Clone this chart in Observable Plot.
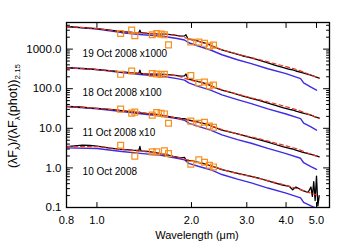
<!DOCTYPE html>
<html><head><meta charset="utf-8">
<script src="https://cdn.jsdelivr.net/npm/d3@7"></script>
<script src="https://cdn.jsdelivr.net/npm/@observablehq/plot@0.6"></script>
<style>body{margin:0;background:#fff}#chart{width:350px;height:250px}</style>
</head><body><div id="chart"></div>
<script>
// ---- data (values relative to photometry, before the epoch offset factor) ----
const epochs = ["10 Oct", "11 Oct", "18 Oct", "19 Oct"];
const epochFactors = [1, 10, 100, 1000];
const epochLabels = ["10 Oct 2008", "11 Oct 2008 x10", "18 Oct 2008 x100", "19 Oct 2008 x1000"];

const obsWavelength = [0.80,0.85,0.90,0.95,1.00,1.10,1.20,1.30,1.36,1.37,1.38,1.45,1.55,1.65,1.75,1.85,1.90,1.92,1.95,2.05,2.15,2.25,2.35,2.50,2.70,2.90,3.10,3.30,3.50,3.70,3.90,4.10,4.20,4.30,4.50,4.70,4.80,4.85,4.90,4.95,5.00,5.05,5.10];
const obs10Oct = [3.45,3.60,3.75,3.70,3.55,3.15,2.95,2.80,2.75,3.50,2.70,2.62,2.40,2.18,1.95,1.80,1.85,1.58,1.55,1.45,1.33,1.20,1.08,0.90,0.78,0.69,0.61,0.54,0.47,0.41,0.37,0.34,0.28,0.33,0.27,0.24,0.33,0.19,0.45,0.15,0.62,0.11,0.20];
const obs11Oct = [3.60,3.50,3.40,3.30,3.20,3.00,2.80,2.60,2.50,2.55,2.45,2.35,2.25,2.05,1.90,1.78,1.75,1.70,1.62,1.50,1.38,1.25,1.08,0.90,0.78,0.67,0.58,0.51,0.45,0.39,0.345,0.31,0.30,0.28,0.25,0.23,0.22,0.215,0.21,0.205,0.20,0.195,0.19];
const obs18Oct = [3.39,3.30,3.25,3.15,3.05,2.85,2.65,2.50,2.45,2.95,2.42,2.35,2.32,2.30,2.20,2.08,2.10,2.35,1.75,1.60,1.45,1.30,1.10,0.92,0.78,0.66,0.57,0.50,0.43,0.38,0.335,0.30,0.29,0.27,0.245,0.225,0.215,0.21,0.20,0.195,0.19,0.185,0.18];
const obs19Oct = [3.72,3.60,3.50,3.40,3.31,3.00,2.75,2.65,2.62,3.00,2.60,2.50,2.42,2.40,2.30,2.12,2.15,2.30,1.80,1.68,1.50,1.35,1.15,0.95,0.80,0.68,0.60,0.52,0.45,0.39,0.345,0.31,0.30,0.28,0.255,0.23,0.22,0.215,0.21,0.20,0.195,0.19,0.185];

const modelWavelength = [0.80,1.00,1.20,1.40,1.60,1.80,2.00,2.20,2.40,2.60,2.80,3.00,3.30,3.60,4.00,4.40,4.80,5.10];
const model10Oct = [3.45,3.45,2.90,2.60,2.25,1.85,1.50,1.25,1.02,0.84,0.72,0.64,0.54,0.45,0.36,0.29,0.23,0.20];
const model11Oct = [3.55,3.20,2.80,2.45,2.15,1.80,1.52,1.30,1.04,0.85,0.73,0.64,0.54,0.45,0.36,0.29,0.22,0.19];
const model18Oct = [3.35,3.05,2.65,2.40,2.30,2.10,1.62,1.38,1.05,0.86,0.73,0.63,0.52,0.44,0.35,0.28,0.215,0.18];
const model19Oct = [3.70,3.30,2.75,2.55,2.40,2.20,1.72,1.42,1.08,0.88,0.75,0.65,0.54,0.45,0.36,0.29,0.22,0.185];

const photWavelength = [1.19,1.29,1.32,1.50,1.55,1.60,1.64,1.69,1.99,2.11,2.20,2.28,2.35];
const phot10Oct = [3.74,null,1.97,2.54,2.54,null,2.69,2.31,1.24,1.61,1.39,1.17,1.06];
const phot11Oct = [3.05,2.42,2.56,2.15,2.49,2.39,2.31,1.34,1.52,1.34,1.42,1.14,1.06];
const phot18Oct = [2.31,2.80,null,2.42,2.35,2.28,2.31,null,2.15,1.42,1.48,1.17,1.24];
const phot19Oct = [2.48,3.02,2.17,2.30,2.48,2.39,2.30,1.28,1.51,1.50,1.40,1.19,1.26];

const bareWavelength = [0.80,1.00,1.20,1.40,1.60,1.80,1.90,1.96,2.10,2.30,2.50,2.80,3.10,3.50,4.00,4.45,4.55,4.80,5.00];
const bare10Oct = [3.20,3.09,2.60,2.30,2.09,1.75,1.60,1.30,1.10,0.90,0.68,0.52,0.42,0.31,0.23,0.175,0.135,0.11,0.095];
const bare11Oct = [3.55,3.10,2.65,2.30,2.05,1.75,1.60,1.35,1.12,0.90,0.68,0.52,0.42,0.31,0.23,0.175,0.135,0.108,0.092];
const bare18Oct = [3.39,3.05,2.55,2.25,2.10,1.80,1.65,1.40,1.15,0.92,0.70,0.53,0.42,0.31,0.23,0.175,0.135,0.108,0.090];
const bare19Oct = [3.70,3.20,2.60,2.30,2.15,1.85,1.70,1.45,1.20,0.95,0.72,0.54,0.43,0.32,0.24,0.18,0.14,0.11,0.092];

const xTickValues = [0.8, 1, 2, 3, 4, 5];
const yTickValues = [0.1, 1, 10, 100, 1000];

// ---- tables ----
function longTable(lams, series) {
  const out = [];
  series.forEach((vals, i) => vals.forEach((v, j) => {
    if (v != null) out.push({epoch: epochs[i], lam: lams[j], value: v * epochFactors[i]});
  }));
  return out;
}
const obs = longTable(obsWavelength, [obs10Oct, obs11Oct, obs18Oct, obs19Oct]);
const model = longTable(modelWavelength, [model10Oct, model11Oct, model18Oct, model19Oct]);
const phot = longTable(photWavelength, [phot10Oct, phot11Oct, phot18Oct, phot19Oct]);
const bare = longTable(bareWavelength, [bare10Oct, bare11Oct, bare18Oct, bare19Oct]);
const labels = epochLabels.map((t, i) => ({text: t, y: 0.78 * epochFactors[i]}));

const minorY = [];
for (let e = -1; e <= 3; e++) for (let m = 2; m <= 9; m++) { const v = m * 10 ** e; if (v < 4700) minorY.push(v); }

const tickShape = {draw(context, l) { context.moveTo(0, 0); context.lineTo(0, -l); }};
const tk = (data, opts) => Plot.vector(data, {shape: tickShape, anchor: "start", stroke: "black", strokeWidth: 1, ...opts});

const blue = "#3f2be3", red = "#ee3322", orange = "#f7901e";

const chart = Plot.plot({
  width: 350, height: 250,
  marginLeft: 66, marginRight: 21, marginTop: 22, marginBottom: 43,
  style: {fontFamily: "Liberation Sans, Arial, Helvetica, sans-serif", background: "white", color: "black"},
  x: {type: "log", domain: [0.8, 5.5]},
  y: {type: "log", domain: [0.1, 4700]},
  marks: [
    Plot.line(bare, {x: "lam", y: "value", z: "epoch", stroke: blue, strokeWidth: 1.4, clip: true}),
    Plot.line(obs, {x: "lam", y: "value", z: "epoch", stroke: "black", strokeWidth: 1.3, clip: true}),
    Plot.line(model, {x: "lam", y: "value", z: "epoch", stroke: red, strokeWidth: 1.2, strokeDasharray: "4,3", clip: true, curve: "monotone-x"}),
    Plot.dot(phot, {x: "lam", y: "value", symbol: "square", r: 3.3, stroke: orange, strokeWidth: 1.2, fill: "none"}),
    Plot.text(labels, {x: 0.9, y: "y", text: "text", textAnchor: "start", fontSize: 10, fill: "black"}),
    Plot.frame({stroke: "black", strokeWidth: 1.3}),
    tk([1, 2, 3, 4, 5], {x: d => d, frameAnchor: "bottom", rotate: 0, length: 5}),
    tk([1, 2, 3, 4, 5], {x: d => d, frameAnchor: "top", rotate: 180, length: 5}),
    tk(yTickValues, {y: d => d, frameAnchor: "left", rotate: 90, length: 6}),
    tk(yTickValues, {y: d => d, frameAnchor: "right", rotate: -90, length: 6}),
    tk(minorY, {y: d => d, frameAnchor: "left", rotate: 90, length: 3}),
    tk(minorY, {y: d => d, frameAnchor: "right", rotate: -90, length: 3}),
    Plot.axisX({ticks: xTickValues, tickFormat: d => d.toFixed(1), tickSize: 0, tickPadding: 9, fontSize: 11, label: null}),
    Plot.axisY({ticks: yTickValues, tickFormat: d => d.toFixed(1), tickSize: 0, tickPadding: 5, fontSize: 11.5, label: null})
  ]
});

const svg = d3.select(chart);
svg.append("text").attr("x", 197).attr("y", 239).attr("text-anchor", "middle")
  .attr("font-size", 11).attr("fill", "black").text("Wavelength (μm)");
const yl = svg.append("text").attr("transform", "translate(17,116) rotate(-90)")
  .attr("text-anchor", "middle").attr("font-size", 12.5).attr("fill", "black");
const parts = [["(λF", 0], ["λ", 1], [")/(λF", 0], ["λ", 1], ["(phot))", 0], ["2.15", 1]];
parts.forEach(([t, sub], i) => {
  const prevSub = i > 0 && parts[i - 1][1];
  const s = yl.append("tspan").text(t)
    .attr("dy", sub && !prevSub ? 3 : (!sub && prevSub ? -3 : 0));
  if (sub) s.attr("font-size", 8);
});
document.getElementById("chart").appendChild(chart);
</script>
</body></html>
